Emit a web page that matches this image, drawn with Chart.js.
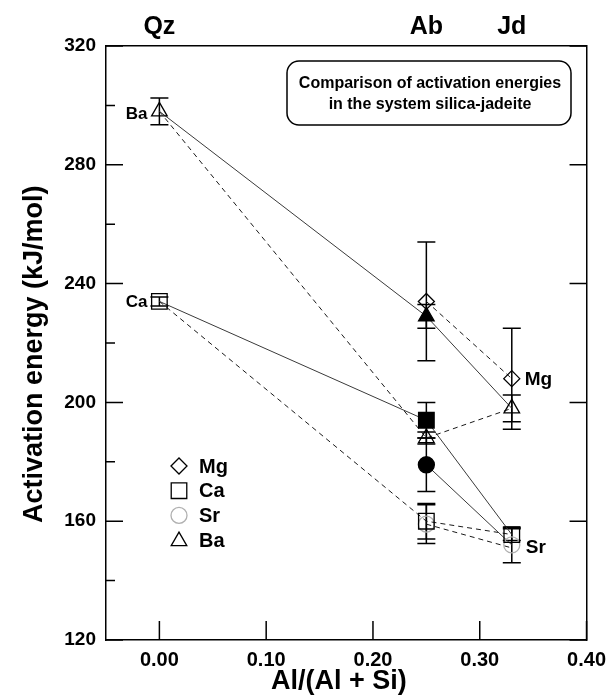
<!DOCTYPE html>
<html><head><meta charset="utf-8">
<script src="https://cdn.jsdelivr.net/npm/chart.js@4.4.0/dist/chart.umd.min.js"></script>
<style>html,body{margin:0;padding:0;background:#fff}#wrap{width:614px;height:695px;position:relative}</style>
</head><body><div id="wrap"><canvas id="c" width="614" height="695"></canvas></div>
<script>
// ---- data ----
const compositions = [0, 0.25, 0.33];
const compositionLabels = ['Qz', 'Ab', 'Jd'];
const xTicks = [0, 0.1, 0.2, 0.3, 0.4];
const yMajorTicks = [120, 160, 200, 240, 280, 320];
const yMinorTicks = [140, 180, 220, 260, 300];

// solid lines (filled symbols at Ab)
const baSolid = [298, 229, 198];
const baSolidErr = [4.5, 4, 4.5];
const caSolid = [234, 194, 155.5];
const caSolidErr = [1.5, 6, 2];
const srSolid = [null, 179, 152];
const srSolidErr = [null, 9, 6];
// dashed lines (open symbols at Ab)
const baDashed = [298, 188, 198];
const baDashedErr = [4.5, 2, 4.5];
const caDashed = [234, 160, 155.5];
const caDashedErr = [1.5, 6, 2];
const srDashed = [null, 159, 151];
const srDashedErr = [null, 6.5, 6];
const mgDashed = [null, 234, 208];
const mgDashedErr = [null, 20, 17];

const legendLabels = ['Mg', 'Ca', 'Sr', 'Ba'];
const titleLines = ['Comparison of activation energies', 'in the system silica-jadeite'];

// ---- styling ----
const FONT = '"Liberation Sans", Arial, Helvetica, sans-serif';
const BLACK = '#000';
const GREY = '#b0b0b0';
const T = 'rgba(0,0,0,0)';
const SOLID_LINE = '#3a3a3a';
const DASH = [5, 4];

const datasets = [];
function addSeries(label, ys, errs, style, radii, fills, strokes, dashed) {
  datasets.push({
    label,
    data: compositions.map((c, i) => ({ x: c, y: ys[i] })),
    errors: errs,
    showLine: true,
    spanGaps: false,
    borderColor: dashed ? '#1a1a1a' : SOLID_LINE,
    borderWidth: 1,
    borderDash: dashed ? DASH : [],
    pointStyle: style,
    pointRadius: radii,
    pointHoverRadius: radii,
    pointBackgroundColor: fills,
    pointBorderColor: strokes,
    pointBorderWidth: 1.3,
    tension: 0,
    fill: false,
    clip: false,
    xAxisID: 'x',
    yAxisID: 'y'
  });
}
const RT = 9, RS = 11, RC = 8, RD = 8;
addSeries('Ba', baSolid, baSolidErr, 'triangle', [RT, RT, RT], [T, BLACK, T], [BLACK, BLACK, BLACK], false);
addSeries('Ca', caSolid, caSolidErr, 'rect', [RS, RS, RS], [T, BLACK, T], [BLACK, BLACK, BLACK], false);
addSeries('Sr', srSolid, srSolidErr, 'circle', [0, RC, RC], [T, BLACK, T], [GREY, BLACK, GREY], false);
addSeries('Ba open', baDashed, baDashedErr, 'triangle', [0, RT, 0], [T, T, T], [BLACK, BLACK, BLACK], true);
addSeries('Ca open', caDashed, caDashedErr, 'rect', [0, RS, 0], [T, T, T], [BLACK, BLACK, BLACK], true);
addSeries('Sr open', srDashed, srDashedErr, 'circle', [0, RC, 0], [T, T, T], [GREY, GREY, GREY], true);
addSeries('Mg', mgDashed, mgDashedErr, 'rectRot', [0, RD, RD], [T, T, T], [BLACK, BLACK, BLACK], true);

function drawMarker(ctx, style, x, y, r, stroke) {
  ctx.save();
  ctx.strokeStyle = stroke; ctx.lineWidth = 1.3;
  ctx.beginPath();
  if (style === 'rectRot') {
    ctx.moveTo(x - r, y); ctx.lineTo(x, y - r); ctx.lineTo(x + r, y); ctx.lineTo(x, y + r); ctx.closePath();
  } else if (style === 'rect') {
    const s = r * Math.SQRT1_2; ctx.rect(x - s, y - s, 2 * s, 2 * s);
  } else if (style === 'circle') {
    ctx.arc(x, y, r, 0, Math.PI * 2);
  } else {
    ctx.moveTo(x, y - r); ctx.lineTo(x + r * 0.866, y + r / 2); ctx.lineTo(x - r * 0.866, y + r / 2); ctx.closePath();
  }
  ctx.stroke();
  ctx.restore();
}

const decor = {
  id: 'decor',
  beforeDatasetsDraw(chart) {
    const { ctx, chartArea: ca } = chart;
    const x = chart.scales.x, y = chart.scales.y;
    ctx.save();
    ctx.strokeStyle = BLACK; ctx.lineWidth = 1.5;
    ctx.beginPath();
    yMajorTicks.forEach(v => { const p = y.getPixelForValue(v); ctx.moveTo(ca.left, p); ctx.lineTo(ca.left + 17, p); });
    yMinorTicks.forEach(v => { const p = y.getPixelForValue(v); ctx.moveTo(ca.left, p); ctx.lineTo(ca.left + 9, p); });
    yMajorTicks.forEach(v => { const p = y.getPixelForValue(v); ctx.moveTo(ca.right, p); ctx.lineTo(ca.right - 17, p); });
    xTicks.forEach(v => { const p = x.getPixelForValue(v); ctx.moveTo(p, ca.bottom); ctx.lineTo(p, ca.bottom - 19); });
    ctx.stroke();
    // error bars
    ctx.lineWidth = 1.5;
    chart.data.datasets.forEach(d => {
      d.data.forEach((pt, i) => {
        const e = d.errors[i];
        if (pt.y == null || e == null || !d.pointRadius[i]) return;
        const px = x.getPixelForValue(pt.x);
        const t = y.getPixelForValue(pt.y + e), b = y.getPixelForValue(pt.y - e);
        ctx.beginPath();
        ctx.moveTo(px, t); ctx.lineTo(px, b);
        ctx.moveTo(px - 9, t); ctx.lineTo(px + 9, t);
        ctx.moveTo(px - 9, b); ctx.lineTo(px + 9, b);
        ctx.stroke();
      });
    });
    ctx.restore();
  },
  afterDraw(chart) {
    const { ctx } = chart;
    const x = chart.scales.x, y = chart.scales.y;
    ctx.save();
    ctx.fillStyle = BLACK;
    // point labels
    ctx.font = 'bold 17px ' + FONT;
    ctx.textBaseline = 'middle';
    ctx.textAlign = 'right';
    ctx.fillText('Ba', x.getPixelForValue(compositions[0]) - 12, y.getPixelForValue(baSolid[0]) + 3);
    ctx.fillText('Ca', x.getPixelForValue(compositions[0]) - 12, y.getPixelForValue(caSolid[0]) + 1);
    ctx.font = 'bold 19px ' + FONT;
    ctx.textAlign = 'left';
    ctx.fillText('Mg', x.getPixelForValue(compositions[2]) + 13, y.getPixelForValue(mgDashed[2]) + 1);
    ctx.fillText('Sr', x.getPixelForValue(compositions[2]) + 14, y.getPixelForValue(srSolid[2]) + 3);
    // title box
    ctx.lineWidth = 1.5; ctx.strokeStyle = BLACK;
    ctx.beginPath();
    ctx.roundRect(287, 61, 284, 64, 12);
    ctx.stroke();
    ctx.font = 'bold 16px ' + FONT;
    ctx.textAlign = 'center';
    ctx.fillText(titleLines[0], 430, 84);
    ctx.fillText(titleLines[1], 430, 105);
    // legend
    const styles = ['rectRot', 'rect', 'circle', 'triangle'];
    const radii = [8, 11, 8, 9];
    const strokes = [BLACK, BLACK, GREY, BLACK];
    ctx.font = 'bold 20px ' + FONT;
    ctx.textAlign = 'left';
    legendLabels.forEach((l, i) => {
      const ly = 466 + i * 24.7;
      drawMarker(ctx, styles[i], 179, ly + (styles[i] === 'triangle' ? 1 : 0), radii[i], strokes[i]);
      ctx.fillText(l, 199, ly + 1);
    });
    ctx.restore();
  }
};

const boldFont = (s, lh) => ({ family: FONT, size: s, weight: 'bold', lineHeight: lh || 1.2 });

new Chart(document.getElementById('c'), {
  type: 'scatter',
  data: { datasets },
  options: {
    responsive: false,
    animation: false,
    devicePixelRatio: 1,
    layout: { padding: 0 },
    plugins: { legend: { display: false }, tooltip: { enabled: false } },
    scales: {
      x: {
        type: 'linear', position: 'bottom', min: -0.05, max: 0.40,
        afterBuildTicks: s => { s.ticks = xTicks.map(v => ({ value: v })); },
        afterFit: s => { s.height = 55; },
        grid: { display: false, drawTicks: false },
        border: { display: true, color: BLACK, width: 1.5 },
        ticks: { font: boldFont(20), color: BLACK, padding: 8, autoSkip: false, maxRotation: 0,
                 callback: v => Number(v).toFixed(2) },
        title: { display: true, text: 'Al/(Al + Si)\u00a0\u00a0', font: boldFont(27, 1.0), color: BLACK, padding: { top: 0, bottom: 0 } }
      },
      xTop: {
        type: 'linear', position: 'top', min: -0.05, max: 0.40,
        afterBuildTicks: s => { s.ticks = compositions.map(v => ({ value: v })); },
        afterFit: s => { s.height = 46; },
        grid: { display: false, drawTicks: false },
        border: { display: true, color: BLACK, width: 1.5 },
        ticks: { font: boldFont(25), color: BLACK, padding: 4, autoSkip: false, maxRotation: 0,
                 callback: v => compositionLabels[compositions.indexOf(v)] }
      },
      y: {
        type: 'linear', position: 'left', min: 120, max: 320,
        afterBuildTicks: s => { s.ticks = yMajorTicks.map(v => ({ value: v })); },
        afterFit: s => { s.width = 106; },
        grid: { display: false, drawTicks: false },
        border: { display: true, color: BLACK, width: 1.5 },
        ticks: { font: boldFont(19), color: BLACK, padding: 10 },
        title: { display: true, text: 'Activation energy (kJ/mol)\u00a0\u00a0\u00a0', font: boldFont(27, 1.0), color: BLACK, padding: { top: 21, bottom: 0 } }
      },
      yRight: {
        type: 'linear', position: 'right', min: 120, max: 320,
        afterFit: s => { s.width = 24; },
        grid: { display: false, drawTicks: false },
        border: { display: true, color: BLACK, width: 1.5 },
        ticks: { display: false }
      }
    }
  },
  plugins: [decor]
});
</script>
</body></html>
